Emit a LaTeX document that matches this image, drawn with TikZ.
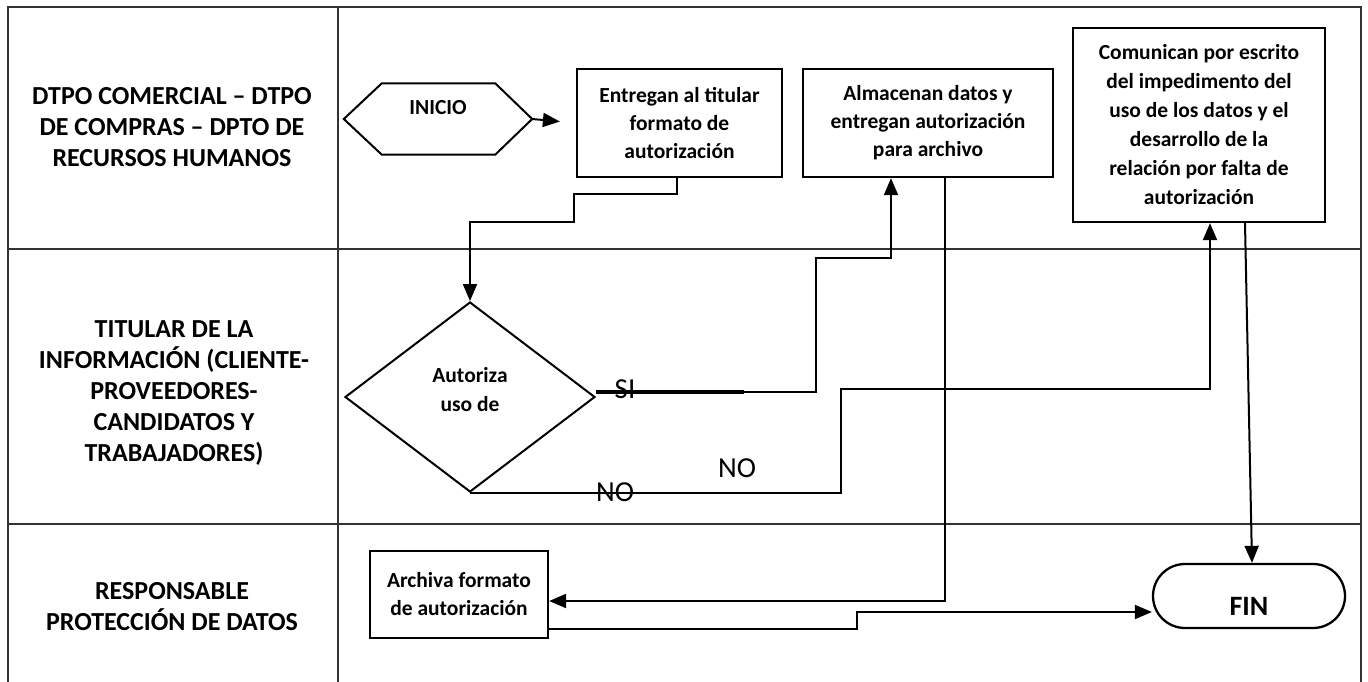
\documentclass[tikz,border=0pt]{standalone}
\usepackage{fontspec}
\setmainfont{Carlito}
\usetikzlibrary{shapes.geometric,arrows.meta,calc}
\begin{document}
\begin{tikzpicture}[x=1pt,y=-1pt,
  lane/.style={line width=1.6pt, draw=black!80},
  lanetxt/.style={font=\bfseries\fontsize{26}{31}\selectfont, align=center},
  proc/.style={draw, line width=2.3pt, align=center, font=\bfseries\fontsize{21.5}{28}\selectfont, inner sep=0pt},
  conn/.style={line width=2pt},
  arr/.style={conn, -{Triangle[length=17pt,width=14pt]}},
  choice/.style={font=\fontsize{29}{30}\selectfont, inner sep=0pt}
]
\useasboundingbox (0,0) rectangle (1368,682);
% swimlane table
\draw[lane] (8,682) -- (8,7) -- (1361,7) -- (1361,682);
\draw[lane] (338,7) -- (338,682);
\draw[lane] (8,249) -- (1361,249);
\draw[lane] (8,524) -- (1361,524);
\node[lanetxt] (l1) at (172,127) {DTPO COMERCIAL – DTPO\\DE COMPRAS – DPTO DE\\RECURSOS HUMANOS};
\node[lanetxt] (l2) at (174,393) {TITULAR DE LA\\INFORMACIÓN (CLIENTE-\\PROVEEDORES-\\CANDIDATOS Y\\TRABAJADORES)};
\node[lanetxt] (l3) at (172,607) {RESPONSABLE\\PROTECCIÓN DE DATOS};
% nodes
\node[minimum width=188pt, minimum height=71pt, inner sep=0pt,
  label={[yshift=11pt, font=\bfseries\fontsize{21.5}{28}\selectfont]center:INICIO}] (ini) at (438,119) {};
\draw[line width=2pt] (ini.west) -- ([xshift=38pt]ini.north west) -- ([xshift=-37pt]ini.north east)
  -- (ini.east) -- ([xshift=-37pt]ini.south east) -- ([xshift=38pt]ini.south west) -- cycle;
\node[proc, minimum width=205pt, minimum height=108pt] (b1) at (679.5,123) {Entregan al titular\\formato de\\autorización};
\node[proc, minimum width=250pt, minimum height=108pt] (b2) at (928,123) {Almacenan datos y\\entregan autorización\\para archivo};
\node[proc, minimum width=252pt, minimum height=194pt, font=\bfseries\fontsize{21.5}{29}\selectfont] (b3) at (1199,125) {Comunican por escrito\\del impedimento del\\uso de los datos y el\\desarrollo de la\\relación por falta de\\autorización};
\node[diamond, draw, line width=2pt, minimum width=250pt, minimum height=190pt, inner sep=0pt,
  label={[yshift=7pt, align=center, font=\bfseries\fontsize{21.5}{29}\selectfont]center:Autoriza\\uso de}] (d) at (470,397) {};
\node[proc, minimum width=178pt, minimum height=87pt] (b4) at (459,594.5) {Archiva formato\\de autorización};
\node[draw, line width=2.3pt, rounded corners=32pt, minimum width=192pt, minimum height=64pt, inner sep=0pt,
  label={[yshift=-10pt, font=\bfseries\fontsize{28}{30}\selectfont]center:FIN}] (fin) at (1249,596) {};
% connectors
\draw[arr, shorten >=16pt] (ini.east) -- (b1.west);
\draw[arr] ([xshift=-2.5pt]b1.south) |- (574,194) |- (470,222) -- (d.north);
\draw[arr] ([yshift=5pt]d.east) -- (816,392) |- (891,258) -- ([xshift=-37pt]b2.south);
\draw[line width=3.5pt] ([yshift=5pt]d.east) -- ++(148,0);
\draw[arr] (d.south) -| (841,389) -| ([xshift=11pt]b3.south);
\draw[arr] ([xshift=17pt]b2.south) |- ([yshift=-6.5pt]b4.east);
\draw[arr] ([yshift=-34.5pt]b4.east) -| (857,612) -- ([yshift=-16pt]fin.west);
\draw[arr] ([xshift=46pt]b3.south) -- ([xshift=3pt]fin.north);
% branch labels
\node[choice] (si) at (625,389) {SI};
\node[choice] (no1) at (615,492) {NO};
\node[choice] (no2) at (737,468) {NO};
\end{tikzpicture}
\end{document}
